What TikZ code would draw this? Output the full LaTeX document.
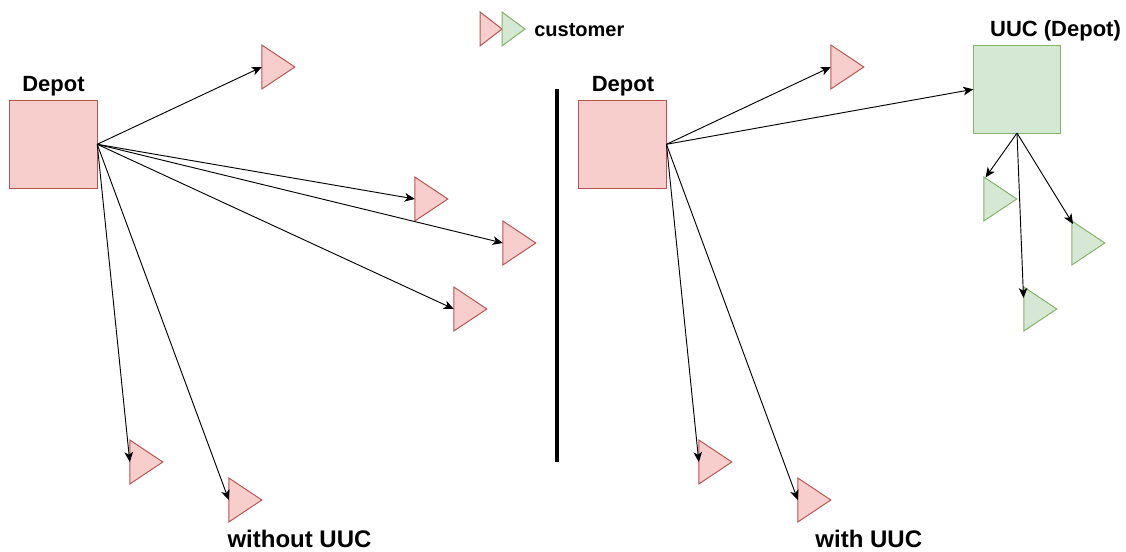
\documentclass[tikz,border=0pt]{standalone}
\usepackage{fontspec}
\setmainfont{Liberation Sans}
\usetikzlibrary{arrows.meta}
\definecolor{rf}{HTML}{F8CECC}
\definecolor{rd}{HTML}{B85450}
\definecolor{gf}{HTML}{D5E8D4}
\definecolor{gd}{HTML}{82B366}
\tikzset{
  sq/.style={draw,minimum size=65.6pt,inner sep=0,outer sep=0,line width=0.75pt},
  redshape/.style={fill=rf,draw=rd},
  grnshape/.style={fill=gf,draw=gd},
  tri/.style={line width=0.75pt,line join=miter},
  conn/.style={-{Stealth[length=7.5pt,width=6.5pt,inset=2pt]},line width=0.7pt,black},
  lab/.style={font=\bfseries\fontsize{16.5}{18}\selectfont,inner sep=0,text=black},
  labsmall/.style={font=\bfseries\fontsize{15}{17}\selectfont,inner sep=0,text=black},
  labbig/.style={font=\bfseries\fontsize{18}{20}\selectfont,inner sep=0,text=black},
}
\newcommand{\tricust}[4]{%
  \draw[tri,#4] (#2,#3) -- ++(0,44) -- ++(33,-22) -- cycle;
  \coordinate (#1) at (#2,#3+22);
}
\begin{document}
\begin{tikzpicture}[x=0.75pt,y=-0.75pt]
\useasboundingbox (0,0) rectangle (1126,552);
\node[sq,redshape] (d1) at (53.5,144.3) {};
\node[sq,redshape] (d2) at (622.7,144.3) {};
\node[sq,grnshape] (u) at (1017,89.3) {};
\tricust{a1}{261.8}{45}{redshape}
\tricust{a2}{414.8}{177}{redshape}
\tricust{a3}{502.8}{221}{redshape}
\tricust{a4}{453.8}{287}{redshape}
\tricust{a5}{129.8}{440}{redshape}
\tricust{a6}{228.8}{478}{redshape}
\tricust{b1}{830.8}{45}{redshape}
\tricust{b5}{698.8}{440}{redshape}
\tricust{b6}{797.8}{478}{redshape}
\tricust{c1}{983.8}{177}{grnshape}
\tricust{c2}{1071.8}{221}{grnshape}
\tricust{c3}{1023.8}{287}{grnshape}
\draw[tri,redshape] (480,12) -- (480,46) -- (502,29) -- cycle;
\draw[tri,grnshape] (502,12) -- (502,46) -- (525,29) -- cycle;
\coordinate (c1t) at (985.5,177.5);
\coordinate (c2t) at (1073,224);
\coordinate (c3t) at (1023.5,298);
\foreach \t in {a1,a2,a3,a4,a5,a6} \draw[conn] (d1.east) -- (\t);
\foreach \t in {b1,b5,b6} \draw[conn] (d2.east) -- (\t);
\draw[conn] (d2.east) -- (u.west);
\draw[conn] (u.south) -- (c1t);
\draw[conn] (u.south) -- (c2t);
\draw[conn] (u.south) -- (c3t);
\coordinate (bar1) at (556.5,89);
\coordinate (bar2) at (556.5,462);
\draw[line width=3pt] (bar1) -- (bar2);
\node[lab] (t1) at (53.5,86) {Depot};
\node[lab] (t2) at (623,86) {Depot};
\node[lab] (t3) at (1055.5,31) {UUC (Depot)};
\node[labsmall] (t4) at (579.3,30) {customer};
\node[labbig] (t5) at (299.5,539) {without UUC};
\node[labbig] (t6) at (868.8,539) {with UUC};
\end{tikzpicture}
\end{document}
